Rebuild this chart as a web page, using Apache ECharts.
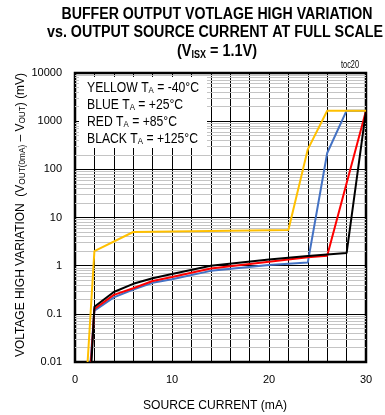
<!DOCTYPE html>
<html>
<head>
<meta charset="utf-8">
<script src="https://cdn.jsdelivr.net/npm/echarts@6/dist/echarts.min.js"></script>
<style>
  html, body { margin: 0; padding: 0; background: #fff; }
  #chart { width: 385px; height: 415px; }
</style>
</head>
<body>
<div id="chart"></div>
<script>
// data: [source current (mA), variation (mV)]
const yellowData = [[1.3, 0.01], [2, 2], [6, 5], [22, 5.5], [24, 260], [26, 1650], [30, 1650]];
const blueData = [[1.6, 0.01], [2, 0.117], [4, 0.22], [6, 0.32], [8, 0.44], [10, 0.52], [14, 0.78], [20, 1.03], [24, 1.17], [26, 218], [28, 1650], [30, 1650]];
const redData = [[1.65, 0.01], [2, 0.126], [4, 0.247], [6, 0.34], [8, 0.48], [10, 0.58], [14, 0.87], [20, 1.21], [24, 1.49], [26, 1.61], [30, 1650]];
const blackData = [[1.7, 0.01], [2, 0.14], [4, 0.284], [6, 0.42], [8, 0.55], [10, 0.67], [14, 1.0], [20, 1.35], [24, 1.59], [28, 1.83], [30, 1650]];

const xTickLabels = ["0", "10", "20", "30"];
const yTickLabels = ["0.01", "0.1", "1", "10", "100", "1000", "10000"];
const legendLines = [
  ["YELLOW T", "A", " = -40°C"],
  ["BLUE T", "A", " = +25°C"],
  ["RED T", "A", " = +85°C"],
  ["BLACK T", "A", " = +125°C"]
];

const FONT = "'Liberation Sans', Arial, sans-serif";

// light grey lines at 2..9 of every decade
let minorGrid = [];
for (let d = -2; d < 4; d++) {
  for (let m = 2; m <= 9; m++) {
    minorGrid.push(m * Math.pow(10, d));
  }
}

// the original uses a narrow font, so squeeze Liberation Sans to the same width
const ctx = document.createElement("canvas").getContext("2d");
function widthOf(parts, size, subSize, weight) {
  let w = 0;
  parts.forEach(function (p, i) {
    const isSub = i % 2 === 1;
    ctx.font = (weight || "normal") + " " + (isSub ? subSize : size) + "px 'Liberation Sans'";
    w += ctx.measureText(p).width;
  });
  return w;
}
function richText(parts) {
  return parts.map(function (p, i) { return i % 2 === 1 ? "{s|" + p + "}" : p; }).join("");
}

// parts alternate normal / subscript; sc is the horizontal squeeze
function label(x, y, parts, size, subSize, weight, sc, extra) {
  extra = extra || {};
  return {
    type: "text",
    x: x,
    y: y,
    z: 120,
    scaleX: sc,
    rotation: extra.rotation || 0,
    style: {
      text: richText(parts),
      align: extra.align || "center",
      verticalAlign: "middle",
      fill: "#000",
      fontFamily: FONT,
      fontSize: size,
      fontWeight: weight || "normal",
      rich: {
        s: { fontSize: subSize, fontWeight: weight || "normal", fontFamily: FONT, padding: [Math.round(subSize * 0.7), 0, 0, 0] }
      }
    }
  };
}
function fitted(x, y, parts, size, subSize, weight, target, extra) {
  return label(x, y, parts, size, subSize, weight, target / widthOf(parts, size, subSize, weight), extra);
}

const legendScale = 111 / widthOf(legendLines[3], 14, 9, "normal");

const graphics = [
  fitted(217, 15, ["BUFFER OUTPUT VOTLAGE HIGH VARIATION"], 16, 10, "bold", 311),
  fitted(215, 33, ["vs. OUTPUT SOURCE CURRENT AT FULL SCALE"], 16, 10, "bold", 336),
  fitted(217, 52, ["(V", "ISX", " = 1.1V)"], 16, 10, "bold", 80),
  fitted(350, 65, ["toc20"], 11, 8, "normal", 18),
  fitted(215, 405, ["SOURCE CURRENT (mA)"], 13, 9, "normal", 144),
  fitted(20, 215, ["VOLTAGE HIGH VARIATION  (V", "OUT(0mA)", " – V", "OUT", ") (mV)"], 13, 9, "normal", 284, { rotation: Math.PI / 2 }),
  {
    type: "rect",
    z: 110,
    shape: { x: 79, y: 77, width: 128, height: 71 },
    style: { fill: "#fff" }
  }
];
legendLines.forEach(function (l, i) {
  graphics.push(label(87, 88 + i * 17, l, 14, 9, "normal", legendScale, { align: "left" }));
});

const chart = echarts.init(document.getElementById("chart"));

function curve(name, color, data) {
  return {
    name: name,
    type: "line",
    data: data,
    showSymbol: false,
    smooth: false,
    z: 3,
    lineStyle: { color: color, width: 2 },
    itemStyle: { color: color }
  };
}

const blue = curve("blue", "#4472c4", blueData);
blue.markLine = {
  silent: true,
  symbol: "none",
  z: 1,
  animation: false,
  label: { show: false },
  emphasis: { disabled: true },
  lineStyle: { color: "#c4c4c4", width: 1, type: "solid" },
  data: minorGrid.map(function (v) { return { yAxis: v }; })
};

chart.setOption({
  animation: false,
  grid: {
    left: 75,
    right: 19,
    top: 73,
    bottom: 53,
    show: true,
    borderColor: "#000",
    borderWidth: 2.5
  },
  xAxis: {
    type: "value",
    min: 0,
    max: 30,
    interval: 2,
    axisLine: { show: false },
    axisTick: { show: false },
    axisLabel: {
      color: "#000",
      fontSize: 11,
      fontFamily: FONT,
      margin: 12,
      formatter: function (v) {
        return xTickLabels.indexOf(String(v)) >= 0 ? String(v) : "";
      }
    },
    splitLine: { show: true, lineStyle: { color: "#000", width: 1 } }
  },
  yAxis: {
    type: "log",
    logBase: 10,
    min: 0.01,
    max: 10000,
    axisLine: { show: false },
    axisTick: { show: false },
    axisLabel: {
      color: "#000",
      fontSize: 11,
      fontFamily: FONT,
      margin: 13,
      formatter: function (v) {
        return yTickLabels[Math.round(Math.log10(v)) + 2];
      }
    },
    splitLine: { show: true, lineStyle: { color: "#000", width: 1.2 } }
  },
  graphic: graphics,
  series: [
    blue,
    curve("red", "#ff0000", redData),
    curve("black", "#000000", blackData),
    curve("yellow", "#ffc000", yellowData)
  ]
});
</script>
</body>
</html>
